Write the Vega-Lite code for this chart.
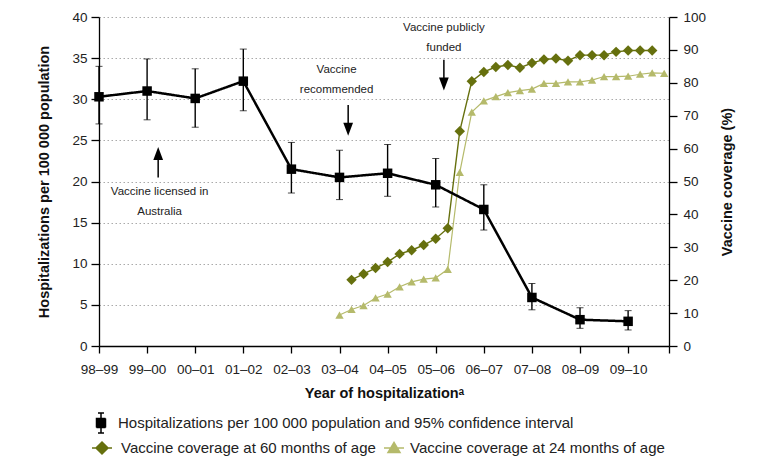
{
  "$schema": "https://vega.github.io/schema/vega-lite/v6.json",
  "width": 570,
  "height": 329,
  "autosize": {"type": "none"},
  "padding": {"left": 99, "top": 17, "right": 102, "bottom": 119},
  "background": "white",
  "config": {
    "view": {"stroke": null},
    "axis": {"domainColor": "black", "tickColor": "black", "labelColor": "#222", "titleColor": "#111"},
    "legend": {"labelFont": "Liberation Sans", "labelFontSize": 15, "labelColor": "#222", "labelLimit": 700, "title": null, "orient": "none", "padding": 0, "symbolSize": 400, "symbolOpacity": 1}
  },
  "datasets": {
    "hosp": [
      {"x": 0, "rate": 30.3, "lo": 27.0, "hi": 34.0, "h": "Hospitalizations per 100 000 population and 95% confidence interval"},
      {"x": 1, "rate": 31.0, "lo": 27.5, "hi": 34.9, "h": "Hospitalizations per 100 000 population and 95% confidence interval"},
      {"x": 2, "rate": 30.1, "lo": 26.6, "hi": 33.7, "h": "Hospitalizations per 100 000 population and 95% confidence interval"},
      {"x": 3, "rate": 32.2, "lo": 28.6, "hi": 36.1, "h": "Hospitalizations per 100 000 population and 95% confidence interval"},
      {"x": 4, "rate": 21.5, "lo": 18.6, "hi": 24.75, "h": "Hospitalizations per 100 000 population and 95% confidence interval"},
      {"x": 5, "rate": 20.5, "lo": 17.8, "hi": 23.8, "h": "Hospitalizations per 100 000 population and 95% confidence interval"},
      {"x": 6, "rate": 21.0, "lo": 18.2, "hi": 24.5, "h": "Hospitalizations per 100 000 population and 95% confidence interval"},
      {"x": 7, "rate": 19.6, "lo": 16.9, "hi": 22.8, "h": "Hospitalizations per 100 000 population and 95% confidence interval"},
      {"x": 8, "rate": 16.6, "lo": 14.1, "hi": 19.6, "h": "Hospitalizations per 100 000 population and 95% confidence interval"},
      {"x": 9, "rate": 5.9, "lo": 4.4, "hi": 7.6, "h": "Hospitalizations per 100 000 population and 95% confidence interval"},
      {"x": 10, "rate": 3.2, "lo": 2.15, "hi": 4.65, "h": "Hospitalizations per 100 000 population and 95% confidence interval"},
      {"x": 11, "rate": 3.0, "lo": 1.95, "hi": 4.3, "h": "Hospitalizations per 100 000 population and 95% confidence interval"}
    ],
    "coverage": [
      {"x": 5.25, "cov": 20.1, "series": "Vaccine coverage at 60 months of age"},
      {"x": 5.5, "cov": 21.9, "series": "Vaccine coverage at 60 months of age"},
      {"x": 5.75, "cov": 23.7, "series": "Vaccine coverage at 60 months of age"},
      {"x": 6.0, "cov": 25.5, "series": "Vaccine coverage at 60 months of age"},
      {"x": 6.25, "cov": 28.0, "series": "Vaccine coverage at 60 months of age"},
      {"x": 6.5, "cov": 29.1, "series": "Vaccine coverage at 60 months of age"},
      {"x": 6.75, "cov": 30.7, "series": "Vaccine coverage at 60 months of age"},
      {"x": 7.0, "cov": 32.6, "series": "Vaccine coverage at 60 months of age"},
      {"x": 7.25, "cov": 35.8, "series": "Vaccine coverage at 60 months of age"},
      {"x": 7.5, "cov": 65.3, "series": "Vaccine coverage at 60 months of age"},
      {"x": 7.75, "cov": 80.5, "series": "Vaccine coverage at 60 months of age"},
      {"x": 8.0, "cov": 83.3, "series": "Vaccine coverage at 60 months of age"},
      {"x": 8.25, "cov": 84.8, "series": "Vaccine coverage at 60 months of age"},
      {"x": 8.5, "cov": 85.4, "series": "Vaccine coverage at 60 months of age"},
      {"x": 8.75, "cov": 84.6, "series": "Vaccine coverage at 60 months of age"},
      {"x": 9.0, "cov": 86.0, "series": "Vaccine coverage at 60 months of age"},
      {"x": 9.25, "cov": 87.1, "series": "Vaccine coverage at 60 months of age"},
      {"x": 9.5, "cov": 87.4, "series": "Vaccine coverage at 60 months of age"},
      {"x": 9.75, "cov": 86.7, "series": "Vaccine coverage at 60 months of age"},
      {"x": 10.0, "cov": 88.4, "series": "Vaccine coverage at 60 months of age"},
      {"x": 10.25, "cov": 88.4, "series": "Vaccine coverage at 60 months of age"},
      {"x": 10.5, "cov": 88.4, "series": "Vaccine coverage at 60 months of age"},
      {"x": 10.75, "cov": 89.4, "series": "Vaccine coverage at 60 months of age"},
      {"x": 11.0, "cov": 89.8, "series": "Vaccine coverage at 60 months of age"},
      {"x": 11.25, "cov": 89.8, "series": "Vaccine coverage at 60 months of age"},
      {"x": 11.5, "cov": 89.8, "series": "Vaccine coverage at 60 months of age"},
      {"x": 5.0, "cov": 9.4, "series": "Vaccine coverage at 24 months of age"},
      {"x": 5.25, "cov": 11.1, "series": "Vaccine coverage at 24 months of age"},
      {"x": 5.5, "cov": 12.3, "series": "Vaccine coverage at 24 months of age"},
      {"x": 5.75, "cov": 14.6, "series": "Vaccine coverage at 24 months of age"},
      {"x": 6.0, "cov": 15.8, "series": "Vaccine coverage at 24 months of age"},
      {"x": 6.25, "cov": 18.0, "series": "Vaccine coverage at 24 months of age"},
      {"x": 6.5, "cov": 19.5, "series": "Vaccine coverage at 24 months of age"},
      {"x": 6.75, "cov": 20.3, "series": "Vaccine coverage at 24 months of age"},
      {"x": 7.0, "cov": 20.7, "series": "Vaccine coverage at 24 months of age"},
      {"x": 7.25, "cov": 23.3, "series": "Vaccine coverage at 24 months of age"},
      {"x": 7.5, "cov": 52.8, "series": "Vaccine coverage at 24 months of age"},
      {"x": 7.75, "cov": 71.1, "series": "Vaccine coverage at 24 months of age"},
      {"x": 8.0, "cov": 74.5, "series": "Vaccine coverage at 24 months of age"},
      {"x": 8.25, "cov": 75.8, "series": "Vaccine coverage at 24 months of age"},
      {"x": 8.5, "cov": 77.0, "series": "Vaccine coverage at 24 months of age"},
      {"x": 8.75, "cov": 77.6, "series": "Vaccine coverage at 24 months of age"},
      {"x": 9.0, "cov": 78.1, "series": "Vaccine coverage at 24 months of age"},
      {"x": 9.25, "cov": 79.8, "series": "Vaccine coverage at 24 months of age"},
      {"x": 9.5, "cov": 79.8, "series": "Vaccine coverage at 24 months of age"},
      {"x": 9.75, "cov": 80.3, "series": "Vaccine coverage at 24 months of age"},
      {"x": 10.0, "cov": 80.3, "series": "Vaccine coverage at 24 months of age"},
      {"x": 10.25, "cov": 80.8, "series": "Vaccine coverage at 24 months of age"},
      {"x": 10.5, "cov": 81.9, "series": "Vaccine coverage at 24 months of age"},
      {"x": 10.75, "cov": 81.9, "series": "Vaccine coverage at 24 months of age"},
      {"x": 11.0, "cov": 82.0, "series": "Vaccine coverage at 24 months of age"},
      {"x": 11.25, "cov": 82.6, "series": "Vaccine coverage at 24 months of age"},
      {"x": 11.5, "cov": 83.0, "series": "Vaccine coverage at 24 months of age"},
      {"x": 11.75, "cov": 82.9, "series": "Vaccine coverage at 24 months of age"}
    ],
    "notes": [
      {"x": 1.26, "y": 18.76, "text": ["Vaccine licensed in", "Australia"]},
      {"x": 4.94, "y": 33.56, "text": ["Vaccine", "recommended"]},
      {"x": 7.17, "y": 38.63, "text": ["Vaccine publicly", "funded"]}
    ],
    "arrows": [
      {"x": 1.23, "y": 20.5, "y2": 22.8, "head": 23.4, "dir": "up"},
      {"x": 5.18, "y": 29.3, "y2": 26.9, "head": 26.36, "dir": "down"},
      {"x": 7.17, "y": 34.8, "y2": 32.5, "head": 31.85, "dir": "down"}
    ]
  },
  "encoding": {
    "x": {
      "field": "x",
      "type": "quantitative",
      "scale": {"domain": [0, 11.85], "nice": false, "zero": false},
      "axis": {
        "values": [0, 1, 2, 3, 4, 5, 6, 7, 8, 9, 10, 11, 11.85],
        "labelExpr": "datum.value > 11.5 ? '' : format((98 + datum.value) % 100, '02d') + '–' + format((99 + datum.value) % 100, '02d')",
        "title": "Year of hospitalizationᵃ",
        "grid": false,
        "tickSize": 7,
        "tickWidth": 1.3,
        "domainWidth": 1.3,
        "labelFont": "Liberation Sans",
        "labelFontSize": 13.5,
        "labelPadding": 9,
        "labelFlush": false,
        "labelOverlap": false,
        "titleFont": "Liberation Sans",
        "titleFontWeight": "bold",
        "titleFontSize": 14.5,
        "titleY": 47,
        "titleBaseline": "middle"
      }
    }
  },
  "layer": [
    {
      "data": {"name": "coverage"},
      "transform": [{"filter": "datum.series == 'Vaccine coverage at 60 months of age'"}],
      "mark": {"type": "line", "strokeWidth": 1.4},
      "encoding": {
        "y": {
          "field": "cov",
          "type": "quantitative",
          "title": "Vaccine coverage (%)",
          "scale": {"domain": [0, 100], "nice": false},
          "axis": {
            "orient": "right",
            "values": [0, 10, 20, 30, 40, 50, 60, 70, 80, 90, 100],
            "labelOverlap": false,
            "title": "Vaccine coverage (%)",
            "grid": false,
            "tickSize": 8,
            "tickWidth": 1.3,
            "domainWidth": 1.3,
            "labelFont": "Liberation Sans",
            "labelFontSize": 13.5,
            "labelPadding": 6,
            "titleFont": "Liberation Sans",
            "titleFontWeight": "bold",
            "titleFontSize": 14.5,
            "titleAngle": 270,
            "titleX": 58,
            "titleY": 164.5,
            "titleAlign": "center",
            "titleBaseline": "middle"
          }
        },
        "stroke": {
          "field": "series",
          "type": "nominal",
          "scale": {"range": ["#66700e"]},
          "legend": {
            "legendX": -8,
            "legendY": 420,
            "symbolType": "M-1,0H1M0,-0.6L0.6,0L0,0.6L-0.6,0Z",
            "symbolFillColor": "#66700e",
            "symbolStrokeColor": "#66700e",
            "symbolStrokeWidth": 1.5,
            "labelOffset": 8
          }
        }
      }
    },
    {
      "data": {"name": "coverage"},
      "transform": [{"filter": "datum.series == 'Vaccine coverage at 24 months of age'"}],
      "mark": {"type": "line", "strokeWidth": 1.2},
      "encoding": {
        "y": {"field": "cov", "type": "quantitative", "scale": {"domain": [0, 100], "nice": false}, "axis": null},
        "color": {
          "field": "series",
          "type": "nominal",
          "scale": {"range": ["#b5ba6b"]},
          "legend": {
            "legendX": 284,
            "legendY": 420,
            "symbolType": "M-1,0H1M0,-0.55L0.6,0.45L-0.6,0.45Z",
            "symbolFillColor": "#b5ba6b",
            "symbolStrokeColor": "#b5ba6b",
            "symbolStrokeWidth": 1.5,
            "labelOffset": 5
          }
        }
      }
    },
    {
      "data": {"name": "coverage"},
      "transform": [{"filter": "datum.series == 'Vaccine coverage at 60 months of age'"}],
      "mark": {"type": "point", "filled": true, "opacity": 1, "shape": "diamond", "size": 110, "color": "#66700e"},
      "encoding": {
        "y": {"field": "cov", "type": "quantitative", "scale": {"domain": [0, 100], "nice": false}, "axis": null}
      }
    },
    {
      "data": {"name": "coverage"},
      "transform": [{"filter": "datum.series == 'Vaccine coverage at 24 months of age'"}],
      "mark": {"type": "point", "filled": true, "opacity": 1, "shape": "triangle-up", "size": 70, "color": "#b5ba6b"},
      "encoding": {
        "y": {"field": "cov", "type": "quantitative", "scale": {"domain": [0, 100], "nice": false}, "axis": null}
      }
    },
    {
      "layer": [
        {
          "data": {"name": "hosp"},
          "mark": {"type": "line", "color": "black", "strokeWidth": 2.5},
          "encoding": {
            "y": {
              "field": "rate",
              "type": "quantitative",
              "title": "Hospitalizations per 100 000 population",
              "scale": {"domain": [0, 40], "nice": false},
              "axis": {
                "orient": "left",
                "values": [0, 5, 10, 15, 20, 25, 30, 35, 40],
                "title": "Hospitalizations per 100 000 population",
                "grid": true,
                "gridDash": [1.5, 2.5],
                "gridColor": "#aaaaaa",
                "gridWidth": 1,
                "tickSize": 8,
                "tickWidth": 1.3,
                "domainWidth": 1.3,
                "labelFont": "Liberation Sans",
                "labelFontSize": 13.5,
                "labelPadding": 4,
                "titleFont": "Liberation Sans",
                "titleFontWeight": "bold",
                "titleFontSize": 14.5,
                "titleAngle": 270,
                "titleX": -55,
                "titleY": 164.5,
                "titleAlign": "center",
                "titleBaseline": "middle"
              }
            },
            "strokeDash": {
              "field": "h",
              "type": "nominal",
              "scale": {"range": [[1, 0]]},
              "legend": {
                "legendX": -9,
                "legendY": 395,
                "symbolType": "M-0.45,-0.45H0.45V0.45H-0.45ZM0,-1V1M-0.3,-1H0.3M-0.3,1H0.3",
                "symbolFillColor": "black",
                "symbolStrokeColor": "black",
                "symbolStrokeWidth": 1.5,
                "labelOffset": 6
              }
            }
          }
        },
        {
          "data": {"name": "hosp"},
          "mark": {"type": "errorbar", "color": "black", "ticks": {"size": 7, "strokeWidth": 1.4}, "rule": {"strokeWidth": 1.4}},
          "encoding": {
            "y": {"field": "lo", "type": "quantitative", "title": "Hospitalizations per 100 000 population", "scale": {"domain": [0, 40], "nice": false}},
            "y2": {"field": "hi"}
          }
        },
        {
          "data": {"name": "hosp"},
          "mark": {"type": "point", "filled": true, "color": "black", "shape": "square", "size": 90, "opacity": 1},
          "encoding": {
            "y": {"field": "rate", "type": "quantitative", "title": "Hospitalizations per 100 000 population", "scale": {"domain": [0, 40], "nice": false}}
          }
        },
        {
          "data": {"name": "notes"},
          "mark": {"type": "text", "font": "Liberation Sans", "fontSize": 11.5, "lineHeight": 20, "align": "center", "baseline": "middle", "color": "#222"},
          "encoding": {
            "y": {"field": "y", "type": "quantitative", "title": "Hospitalizations per 100 000 population", "scale": {"domain": [0, 40], "nice": false}},
            "text": {"field": "text"}
          }
        },
        {
          "data": {"name": "arrows"},
          "mark": {"type": "rule", "color": "black", "strokeWidth": 1.5},
          "encoding": {
            "y": {"field": "y", "type": "quantitative", "title": "Hospitalizations per 100 000 population", "scale": {"domain": [0, 40], "nice": false}},
            "y2": {"field": "y2"}
          }
        },
        {
          "data": {"name": "arrows"},
          "transform": [{"filter": "datum.dir == 'up'"}],
          "mark": {"type": "point", "filled": true, "color": "black", "opacity": 1, "size": 169, "shape": "M0,-1L0.75,1L-0.75,1Z"},
          "encoding": {
            "y": {"field": "head", "type": "quantitative", "title": "Hospitalizations per 100 000 population", "scale": {"domain": [0, 40], "nice": false}}
          }
        },
        {
          "data": {"name": "arrows"},
          "transform": [{"filter": "datum.dir == 'down'"}],
          "mark": {"type": "point", "filled": true, "color": "black", "opacity": 1, "size": 169, "shape": "M0,1L0.75,-1L-0.75,-1Z"},
          "encoding": {
            "y": {"field": "head", "type": "quantitative", "title": "Hospitalizations per 100 000 population", "scale": {"domain": [0, 40], "nice": false}}
          }
        }
      ]
    }
  ],
  "resolve": {"scale": {"y": "independent"}}
}
